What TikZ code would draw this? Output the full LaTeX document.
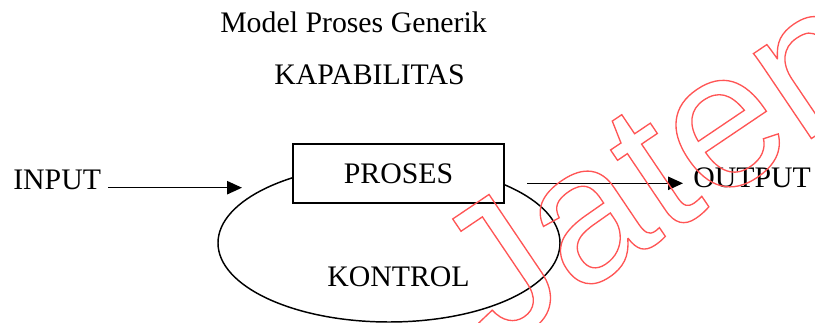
\documentclass[tikz,border=0pt]{standalone}
\usepackage{fontspec}
\setmainfont{Liberation Serif}
\newfontfamily\markfont{Liberation Sans}
\usetikzlibrary{arrows.meta,shapes.geometric}
\definecolor{markred}{RGB}{255,85,85}
% hollow (stroked) letters for the watermark
\newcommand{\hollowtext}[1]{\special{pdf:code 1 Tr 1 w}#1\special{pdf:code 0 Tr}}
\begin{document}
\begin{tikzpicture}[x=0.75pt,y=-0.75pt,
  font=\fontsize{22.35}{26}\selectfont,
  lbl/.style={inner sep=0pt, anchor=base},
  ln/.style={line width=1.1pt},
  arr/.style={line width=1.1pt, -{Triangle[length=11.25pt,width=10pt]}}]
\useasboundingbox (0,0) rectangle (815,323);

% headings
\node[lbl] (judul) at (353.5,33) {Model Proses Generik};
\node[lbl] (kap) at (369.5,85) {KAPABILITAS};

% control loop with the process box on top
\node[draw, ln, ellipse, minimum width=256.5pt, minimum height=118.5pt, inner sep=0pt] (ring) at (389,243) {};
\node[lbl] (kontrol) at (398.5,287) {KONTROL};
\node[draw, ln, fill=white, minimum width=158.25pt, minimum height=44.25pt, inner sep=0pt] (proses) at (398.5,173.5) {PROSES};

% input side
\node[lbl, anchor=base west, inner xsep=5.25pt] (input) at (6,190) {INPUT};
\coordinate (inend) at (242,187.7);
\draw[arr] (input.east |- inend) -- (inend);

% output side
\node[lbl, anchor=base west, inner xsep=7.5pt] (output) at (683,188) {OUTPUT};
\coordinate (outstart) at (527,183.3);
\draw[arr] (outstart) -- (outstart -| output.west);

% watermark
\node[inner sep=0pt, anchor=base west, rotate=34, text=markred,
      font=\markfont\fontsize{146}{146}\selectfont] (tanda) at (495,352) {\hollowtext{Jateng}};
\end{tikzpicture}
\end{document}
